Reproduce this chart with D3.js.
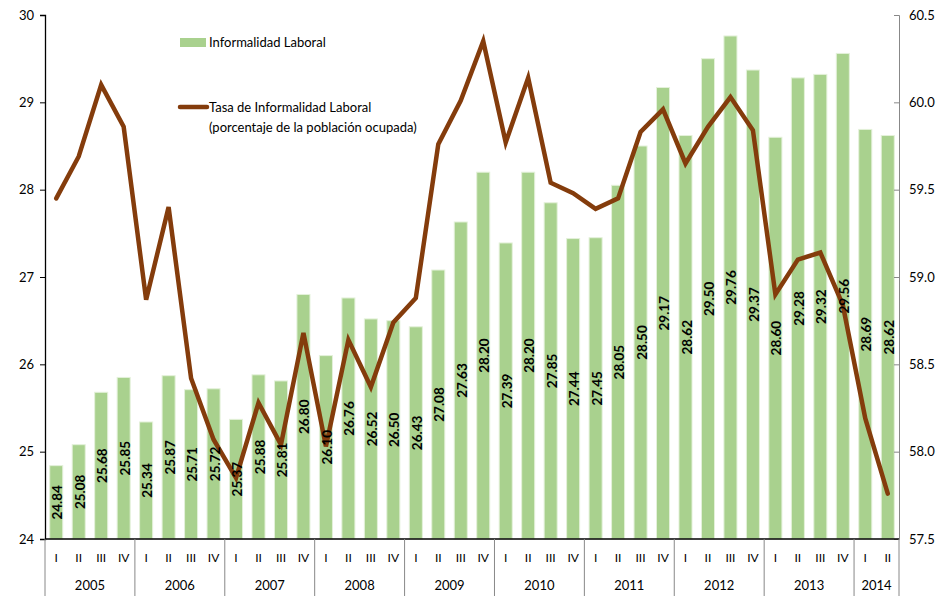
<!DOCTYPE html>
<html><head><meta charset="utf-8">
<script src="https://cdn.jsdelivr.net/npm/d3@7"></script>
<style>body{margin:0;background:#fff}svg{display:block;font-family:Lato,"Open Sans",sans-serif}</style>
</head><body><svg id="c" width="952" height="596"></svg>
<script>
const years = ["2005","2006","2007","2008","2009","2010","2011","2012","2013","2014"];
const quarterNames = ["I","II","III","IV"];
const informalidad = [24.84,25.08,25.68,25.85,25.34,25.87,25.71,25.72,25.37,25.88,25.81,26.80,26.10,26.76,26.52,26.50,26.43,27.08,27.63,28.20,27.39,28.20,27.85,27.44,27.45,28.05,28.50,29.17,28.62,29.50,29.76,29.37,28.60,29.28,29.32,29.56,28.69,28.62];
const tasa = [59.45,59.69,60.10,59.86,58.87,59.40,58.42,58.07,57.85,58.28,58.04,58.68,58.03,58.64,58.37,58.74,58.88,59.76,60.01,60.35,59.77,60.14,59.54,59.48,59.39,59.45,59.83,59.96,59.65,59.86,60.03,59.84,58.90,59.10,59.14,58.84,58.19,57.76];
const leftTicks = [24,25,26,27,28,29,30];
const rightTicks = [57.5,58.0,58.5,59.0,59.5,60.0,60.5];
const legendLabels = ["Informalidad Laboral","Tasa de Informalidad Laboral","(porcentaje de la población ocupada)"];

const periods = informalidad.map((v,i)=>({key:i, year:years[Math.floor(i/4)], q:quarterNames[i%4]}));
const svg = d3.select("#c");
const L=45, R=899, T=15, B=539;
const x = d3.scaleBand().domain(periods.map(d=>d.key)).range([L,R]).paddingInner(0.42).paddingOuter(0.21);
const yL = d3.scaleLinear().domain([24,30]).range([B,T]);
const yR = d3.scaleLinear().domain([57.5,60.5]).range([B,T]);

// bars
svg.append("g").selectAll("rect").data(informalidad).join("rect")
  .attr("x",(d,i)=>x(i)).attr("width",x.bandwidth())
  .attr("y",d=>yL(d)).attr("height",d=>B-yL(d))
  .attr("fill","#a9d18e").attr("stroke","#e4f1da").attr("stroke-width",1);

// line
const line = d3.line().x((d,i)=>x(i)+x.bandwidth()/2).y(d=>yR(d));
svg.append("path").datum(tasa).attr("d",line).attr("fill","none")
  .attr("stroke","#843c0c").attr("stroke-width",4.5).attr("stroke-linejoin","miter").attr("stroke-linecap","round");

// labels
svg.append("g").selectAll("text").data(informalidad).join("text")
  .attr("transform",(d,i)=>`translate(${x(i)+x.bandwidth()/2+1},${(yL(d)+B)/2}) rotate(-90)`)
  .attr("text-anchor","middle").attr("dominant-baseline","central")
  .attr("font-size",13.5).attr("font-weight","bold").attr("fill","#000")
  .text(d=>d.toFixed(2));

// left axis
const gl = svg.append("g").attr("transform",`translate(${L},0)`)
  .call(d3.axisLeft(yL).tickValues(leftTicks).tickSize(5).tickFormat(d3.format("d")));
gl.select(".domain").attr("stroke","#000").attr("stroke-width",1.3);
gl.selectAll(".tick line").attr("stroke","#000");
gl.selectAll("text").attr("font-size",13).attr("fill","#000").attr("x",-11).style("font-family","Lato,sans-serif");

// right axis
const gr = svg.append("g").attr("transform",`translate(${R},0)`)
  .call(d3.axisRight(yR).tickValues(rightTicks).tickSize(-5).tickFormat(d3.format(".1f")));
gr.select(".domain").attr("stroke","#888");
gr.selectAll(".tick line").attr("stroke","#888");
gr.selectAll("text").attr("font-size",13).attr("fill","#000").attr("x",10).style("font-family","Lato,sans-serif");

// bottom axis
svg.append("line").attr("x1",L).attr("x2",R).attr("y1",B).attr("y2",B).attr("stroke","#000").attr("stroke-width",1.3);
svg.append("g").selectAll("text").data(periods).join("text")
  .attr("x",d=>x(d.key)+x.bandwidth()/2).attr("y",562)
  .attr("text-anchor","middle").attr("font-size",12).attr("fill","#000").text(d=>d.q);
const yearGroups = years.map(y=>{
  const idx = periods.filter(p=>p.year===y).map(p=>p.key);
  return {year:y, first: idx[0]};
});
const bx = k => (k===0? L : x(k) - (x(k)-x(k-1)-x.bandwidth())/2);
const boundaries = yearGroups.map(g=>bx(g.first)).concat([R]);
svg.append("g").selectAll("line").data(boundaries).join("line")
  .attr("x1",d=>d).attr("x2",d=>d).attr("y1",B).attr("y2",596)
  .attr("stroke","#888").attr("stroke-width",1);
svg.append("g").selectAll("text").data(yearGroups).join("text")
  .attr("x",(g,i)=>(boundaries[i]+boundaries[i+1])/2).attr("y",590)
  .attr("text-anchor","middle").attr("font-size",13).attr("fill","#000").text(g=>g.year);

// legend
const lg = svg.append("g");
lg.append("rect").attr("x",180).attr("y",38).attr("width",26).attr("height",9).attr("fill","#a9d18e");
lg.append("text").attr("x",209).attr("y",47).attr("font-size",13).text(legendLabels[0]);
lg.append("line").attr("x1",180).attr("x2",207).attr("y1",107).attr("y2",107).attr("stroke","#843c0c").attr("stroke-width",4.5).attr("stroke-linecap","round");
lg.append("text").attr("x",209).attr("y",112).attr("font-size",13).text(legendLabels[1]);
lg.append("text").attr("x",209).attr("y",132).attr("font-size",13).text(legendLabels[2]);
</script></body></html>
